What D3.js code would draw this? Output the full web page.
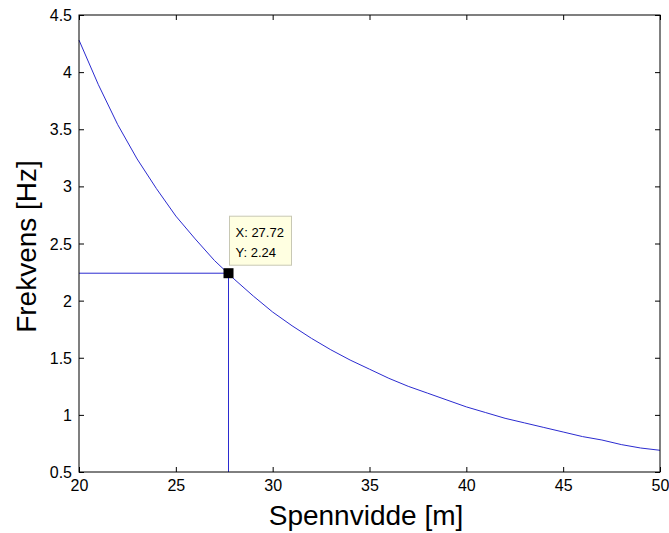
<!DOCTYPE html>
<html><head><meta charset="utf-8">
<script src="https://cdn.jsdelivr.net/npm/d3@7"></script>
<style>
html,body{margin:0;padding:0;background:#fff;}
svg{display:block;font-family:"Liberation Sans",Arial,sans-serif;}
</style></head>
<body><svg id="c" width="669" height="533"></svg>
<script>
const spanValues = [20,21,22,23,24,25,26,27,28,29,30,31,32,33,34,35,36,37,38,39,40,41,42,43,44,45,46,47,48,49,50];
const freqValues = [4.28,3.89,3.54,3.24,2.98,2.74,2.54,2.35,2.19,2.04,1.90,1.78,1.67,1.57,1.48,1.40,1.32,1.25,1.19,1.13,1.07,1.02,0.97,0.93,0.89,0.85,0.81,0.78,0.74,0.71,0.69];
const xTicks = [20,25,30,35,40,45,50];
const yTicks = [0.5,1,1.5,2,2.5,3,3.5,4,4.5];
const tipX = [27.72];
const tipY = [2.24];

const svg = d3.select("#c");
const L = 79, R = 660, T = 15, B = 472;
const x = d3.scaleLinear().domain([20,50]).range([L,R]);
const y = d3.scaleLinear().domain([0.5,4.5]).range([B,T]);

svg.append("rect").attr("x",0).attr("y",0).attr("width",669).attr("height",533).attr("fill","#fff");

// line
const pts = spanValues.map((s,i)=>[s,freqValues[i]]);
svg.append("path").datum(pts)
  .attr("d", d3.line().x(d=>x(d[0])).y(d=>y(d[1])))
  .attr("fill","none").attr("stroke","#2b2bd0").attr("stroke-width",1);

// datatip lines
svg.append("line").attr("x1",x(20)).attr("x2",x(tipX[0])).attr("y1",y(tipY[0])).attr("y2",y(tipY[0]))
  .attr("stroke","#2b2bd0").attr("stroke-width",1);
svg.append("line").attr("x1",x(tipX[0])).attr("x2",x(tipX[0])).attr("y1",y(tipY[0])).attr("y2",y(0.5))
  .attr("stroke","#2b2bd0").attr("stroke-width",1);

// axes
const fmt = d => String(d);
const gx = svg.append("g").attr("transform",`translate(0,${B})`)
  .call(d3.axisBottom(x).tickValues(xTicks).tickFormat(fmt).tickSize(-5));
const gxt = svg.append("g").attr("transform",`translate(0,${T})`)
  .call(d3.axisTop(x).tickValues(xTicks).tickFormat("").tickSize(-5));
const gy = svg.append("g").attr("transform",`translate(${L},0)`)
  .call(d3.axisLeft(y).tickValues(yTicks).tickFormat(fmt).tickSize(-5));
const gyr = svg.append("g").attr("transform",`translate(${R},0)`)
  .call(d3.axisRight(y).tickValues(yTicks).tickFormat("").tickSize(-5));
[gx,gxt,gy,gyr].forEach(g=>{
  g.select(".domain").remove();
  g.selectAll(".tick line").attr("stroke","#000");
  g.selectAll("text").attr("font-size",16).attr("fill","#000").attr("font-family","'Liberation Sans',Arial,sans-serif");
});
gx.selectAll(".tick text").attr("dy","0").attr("y",19);
gy.selectAll(".tick text").attr("x",-7).attr("dy","0.35em");
svg.append("rect").attr("x",L).attr("y",T).attr("width",R-L).attr("height",B-T)
  .attr("fill","none").attr("stroke","#000").attr("stroke-width",1);

// datatip marker
svg.append("rect").attr("x",x(tipX[0])-5).attr("y",y(tipY[0])-5).attr("width",10).attr("height",10).attr("fill","#000");
// datatip box
const bx = x(tipX[0])+1, by = y(tipY[0])-57;
svg.append("rect").attr("x",bx).attr("y",by).attr("width",62).attr("height",49)
  .attr("fill","#ffffe1").attr("stroke","#c8c8b4").attr("stroke-width",1);
svg.append("text").attr("x",bx+6).attr("y",by+21).attr("font-size",13).text("X: " + tipX[0].toFixed(2));
svg.append("text").attr("x",bx+6).attr("y",by+41).attr("font-size",13).text("Y: " + tipY[0].toFixed(2));

// axis titles
svg.append("text").attr("x",366).attr("y",525).attr("text-anchor","middle").attr("font-size",28).text("Spennvidde [m]");
svg.append("text").attr("transform",`translate(36,${(T+B)/2+3}) rotate(-90)`).attr("text-anchor","middle").attr("font-size",28).text("Frekvens [Hz]");
</script></body></html>
